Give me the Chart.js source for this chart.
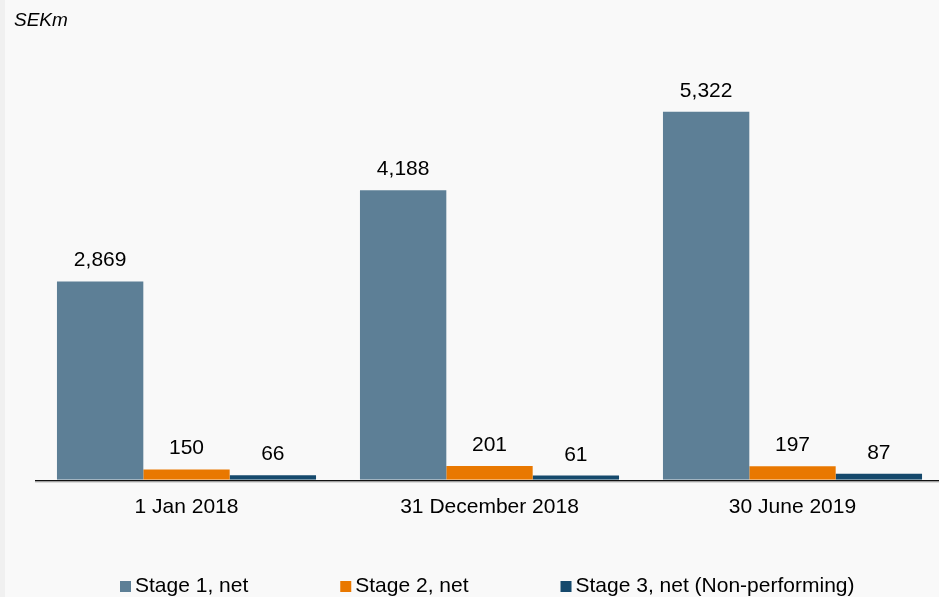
<!DOCTYPE html>
<html>
<head>
<meta charset="utf-8">
<script src="https://cdn.jsdelivr.net/npm/chart.js@4/dist/chart.umd.min.js"></script>
<style>
  html, body { margin: 0; padding: 0; background: #f9f9f9; overflow: hidden; width: 939px; height: 597px; }
  #strip { position: absolute; left: 0; top: 0; width: 5px; height: 597px; background: #f0f0f0; z-index: 2; }
  #wrap { position: absolute; left: 0; top: 0; width: 944px; height: 597px; }
</style>
</head>
<body>
<div id="strip"></div>
<div id="wrap"><canvas id="c"></canvas></div>
<script>
const categories = ["1 Jan 2018", "31 December 2018", "30 June 2019"];
const seriesNames = ["Stage 1, net", "Stage 2, net", "Stage 3, net (Non-performing)"];
const stage1 = [2869, 4188, 5322];
const stage2 = [150, 201, 197];
const stage3 = [66, 61, 87];
const unitLabel = "SEKm";
const colors = ["#5d7f96", "#e97800", "#15496c"];

const FONT = "'Liberation Sans', Arial, sans-serif";

const labelsPlugin = {
  id: 'valueLabels',
  afterDatasetsDraw(chart) {
    const ctx = chart.ctx;
    ctx.save();
    ctx.font = "21px " + FONT;
    ctx.fillStyle = "#000";
    ctx.textAlign = "center";
    ctx.textBaseline = "alphabetic";
    chart.data.datasets.forEach((ds, di) => {
      const meta = chart.getDatasetMeta(di);
      meta.data.forEach((el, i) => {
        ctx.fillText(ds.data[i].toLocaleString('en-US'), el.x, el.y - 15);
      });
    });
    // baseline axis line
    const y = chart.scales.y.getPixelForValue(0);
    ctx.fillStyle = "#111";
    ctx.fillRect(chart.chartArea.left, Math.round(y), chart.width, 1.5);
    ctx.fillStyle = "#bbb";
    ctx.fillRect(chart.chartArea.left, Math.round(y) + 1.5, chart.width, 1);
    // unit label
    ctx.font = "italic 19px " + FONT;
    ctx.fillStyle = "#000";
    ctx.textAlign = "left";
    ctx.fillText(unitLabel, 14, 26);
    // legend
    ctx.font = "21px " + FONT;
    let x = 120;
    chart.data.datasets.forEach((ds) => {
      ctx.fillStyle = ds.backgroundColor;
      ctx.fillRect(x, 581, 11, 11);
      ctx.fillStyle = "#000";
      ctx.fillText(ds.label, x + 15, 592);
      x += 15 + ctx.measureText(ds.label).width + 92;
    });
    ctx.restore();
  }
};

new Chart(document.getElementById('c'), {
  type: 'bar',
  data: {
    labels: categories,
    datasets: [
      { label: seriesNames[0], data: stage1, backgroundColor: colors[0] },
      { label: seriesNames[1], data: stage2, backgroundColor: colors[1] },
      { label: seriesNames[2], data: stage3, backgroundColor: colors[2] }
    ]
  },
  options: {
    responsive: true,
    maintainAspectRatio: false,
    animation: false,
    layout: { padding: { left: 35, right: 0, top: 65, bottom: 62 } },
    datasets: { bar: { categoryPercentage: 0.855, barPercentage: 1.0 } },
    plugins: { legend: { display: false }, tooltip: { enabled: false } },
    scales: {
      x: {
        grid: { display: false, drawTicks: false },
        border: { display: false },
        ticks: { color: "#000", font: { family: FONT, size: 21 }, padding: 15 }
      },
      y: {
        display: false,
        min: 0,
        max: 6000
      }
    }
  },
  plugins: [labelsPlugin]
});
</script>
</body>
</html>
